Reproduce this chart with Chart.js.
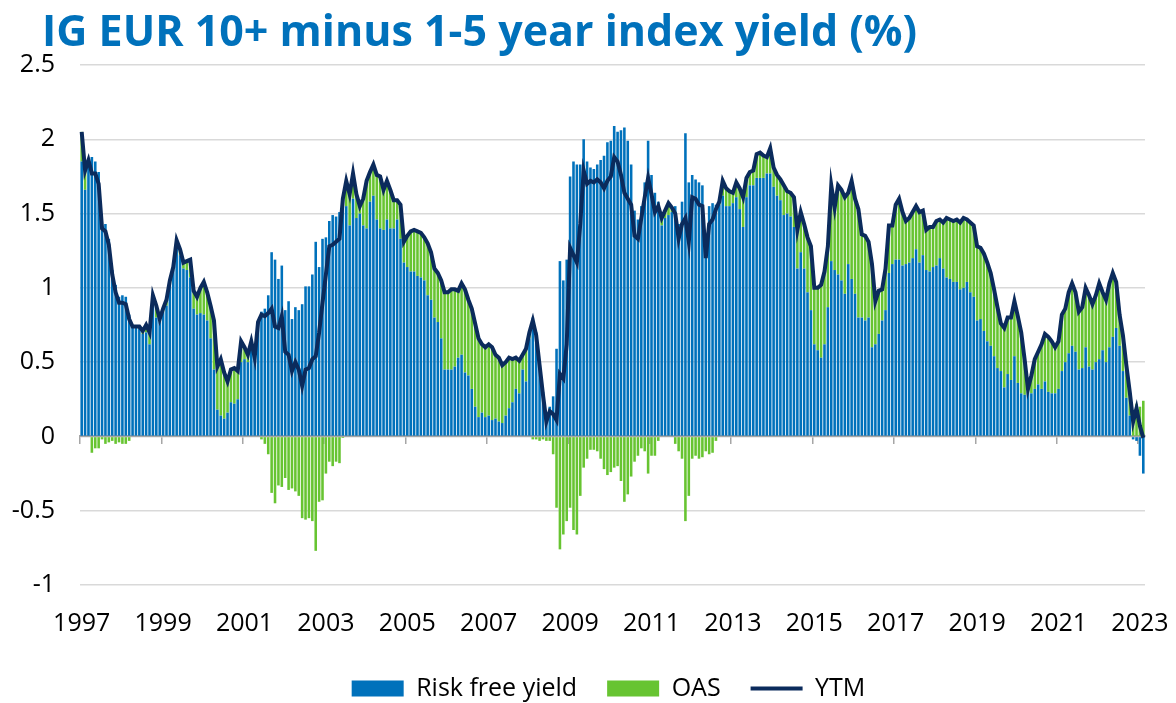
<!DOCTYPE html>
<html>
<head>
<meta charset="utf-8">
<script src="https://cdn.jsdelivr.net/npm/chart.js@4.4.0/dist/chart.umd.min.js"></script>
<style>
  * { margin: 0; padding: 0; box-sizing: border-box; }
  html, body { width: 1176px; height: 703px; overflow: hidden; background: #fff; }
  .wrap { position: absolute; left: 0; top: 0; width: 1176px; height: 711px; }
  .title {
    position: absolute; left: 42px; top: 8px;
    font: bold 43px/1 "Open Sans", sans-serif; color: #0071BB; white-space: nowrap;
  }
</style>
</head>
<body>
<div class="wrap"><canvas id="chart" width="1176" height="711"></canvas></div>
<div class="title">IG EUR 10+ minus 1-5 year index yield (%)</div>
<script>
// monthly series, Jan 1997 .. Feb 2023 (one row per year)
const riskFree = [
  1.85,1.66,1.84,1.88,1.85,1.78,1.42,1.43,1.33,1.12,1.02,0.94,
  0.95,0.94,0.82,0.74,0.74,0.73,0.69,0.70,0.62,0.88,0.80,0.77,
  0.84,0.88,1.03,1.12,1.28,1.22,1.13,1.12,1.07,0.86,0.82,0.83,
  0.82,0.78,0.66,0.45,0.18,0.14,0.12,0.16,0.23,0.22,0.25,0.50,
  0.52,0.50,0.62,0.52,0.77,0.84,0.86,0.95,1.24,1.19,1.06,1.15,
  0.85,0.91,0.79,0.87,0.85,0.89,1.01,1.01,1.09,1.31,1.14,1.33,
  1.34,1.45,1.49,1.48,1.51,1.61,1.55,1.42,1.60,1.47,1.50,1.42,
  1.40,1.58,1.62,1.46,1.40,1.39,1.46,1.40,1.40,1.46,1.33,1.17,
  1.14,1.11,1.11,1.08,1.07,1.05,0.95,0.92,0.80,0.77,0.66,0.45,
  0.45,0.45,0.47,0.53,0.55,0.43,0.41,0.32,0.20,0.13,0.16,0.13,
  0.14,0.11,0.12,0.10,0.09,0.14,0.19,0.23,0.32,0.29,0.45,0.37,
  0.66,0.80,0.70,0.51,0.30,0.13,0.20,0.27,0.59,1.18,1.05,1.19,
  1.75,1.85,1.83,1.83,2.00,1.85,1.81,1.80,1.83,1.86,1.89,1.98,
  1.99,2.09,2.05,2.06,2.08,1.99,1.83,1.52,1.46,1.55,1.71,1.99,
  1.76,1.64,1.58,1.42,1.47,1.49,1.51,1.55,1.43,1.58,2.04,1.71,
  1.76,1.73,1.71,1.69,1.30,1.55,1.57,1.56,1.56,1.62,1.55,1.55,
  1.57,1.61,1.53,1.41,1.61,1.69,1.69,1.74,1.74,1.74,1.77,1.77,
  1.68,1.62,1.59,1.49,1.50,1.48,1.41,1.13,1.24,1.13,0.97,0.85,
  0.62,0.58,0.53,0.62,0.87,1.18,1.12,1.09,1.05,0.96,1.16,1.06,
  0.96,0.80,0.80,0.78,0.80,0.60,0.62,0.69,0.78,0.85,1.10,1.16,
  1.19,1.19,1.15,1.16,1.17,1.20,1.26,1.17,1.22,1.12,1.11,1.14,
  1.15,1.20,1.13,1.07,1.06,1.04,1.04,0.99,1.00,1.04,0.97,0.94,
  0.78,0.79,0.71,0.64,0.61,0.54,0.46,0.44,0.33,0.42,0.38,0.54,
  0.36,0.29,0.28,0.30,0.29,0.32,0.35,0.32,0.37,0.30,0.29,0.29,
  0.32,0.44,0.50,0.56,0.61,0.57,0.45,0.46,0.60,0.47,0.45,0.50,
  0.52,0.58,0.50,0.60,0.67,0.73,0.61,0.44,0.26,0.14,-0.02,-0.03,
  -0.13,-0.25
];
const oas = [
  0.20,0.13,0.02,-0.11,-0.08,-0.08,-0.02,-0.05,-0.04,-0.03,-0.05,-0.04,
  -0.05,-0.05,-0.03,0.00,0.00,0.01,0.02,0.05,0.08,0.07,0.08,0.02,
  0.02,0.04,0.02,0.02,0.04,0.04,0.04,0.06,0.12,0.12,0.12,0.17,
  0.22,0.19,0.22,0.33,0.29,0.38,0.31,0.21,0.22,0.24,0.19,0.14,
  0.08,0.05,0.02,0.01,0.00,-0.02,-0.05,-0.12,-0.38,-0.45,-0.33,-0.34,
  -0.28,-0.36,-0.35,-0.37,-0.40,-0.55,-0.56,-0.55,-0.57,-0.77,-0.44,-0.43,
  -0.25,-0.17,-0.20,-0.17,-0.18,-0.01,0.17,0.21,0.17,0.16,0.05,0.18,
  0.32,0.20,0.21,0.30,0.35,0.27,0.26,0.26,0.19,0.13,0.23,0.14,
  0.21,0.27,0.28,0.30,0.30,0.29,0.35,0.32,0.33,0.33,0.39,0.52,
  0.52,0.54,0.52,0.45,0.48,0.56,0.51,0.54,0.56,0.53,0.46,0.47,
  0.48,0.49,0.43,0.43,0.39,0.36,0.34,0.29,0.21,0.22,0.10,0.22,
  0.04,-0.02,-0.02,-0.03,-0.02,-0.03,-0.03,-0.12,-0.48,-0.76,-0.66,-0.57,
  -0.48,-0.63,-0.66,-0.40,-0.21,-0.15,-0.09,-0.09,-0.10,-0.15,-0.22,-0.26,
  -0.24,-0.21,-0.20,-0.30,-0.44,-0.39,-0.27,-0.17,-0.13,-0.08,-0.10,-0.25,
  -0.13,-0.13,-0.03,0.05,0.05,0.08,0.03,-0.05,-0.10,-0.15,-0.57,-0.40,
  -0.15,-0.13,-0.15,-0.14,-0.10,-0.12,-0.11,-0.03,0.02,0.10,0.12,0.10,
  0.07,0.10,0.14,0.20,0.13,0.09,0.10,0.16,0.17,0.15,0.11,0.17,
  0.13,0.14,0.14,0.20,0.15,0.16,0.20,0.26,0.27,0.30,0.37,0.43,
  0.38,0.42,0.49,0.49,0.41,0.51,0.42,0.60,0.61,0.65,0.48,0.66,
  0.64,0.73,0.56,0.57,0.51,0.56,0.29,0.29,0.21,0.28,0.32,0.26,
  0.37,0.41,0.36,0.29,0.30,0.31,0.29,0.34,0.30,0.27,0.30,0.27,
  0.30,0.26,0.31,0.40,0.40,0.41,0.42,0.45,0.47,0.42,0.47,0.48,
  0.50,0.48,0.52,0.53,0.49,0.45,0.41,0.32,0.40,0.38,0.42,0.37,
  0.45,0.41,0.24,0.02,0.12,0.20,0.22,0.30,0.32,0.37,0.35,0.31,
  0.32,0.38,0.36,0.41,0.42,0.40,0.39,0.41,0.40,0.48,0.44,0.45,
  0.51,0.39,0.42,0.43,0.43,0.31,0.21,0.24,0.22,0.16,0.12,0.22,
  0.20,0.24
];
const ytm = [
  2.05,1.79,1.86,1.77,1.77,1.70,1.40,1.38,1.29,1.09,0.97,0.90,
  0.90,0.89,0.79,0.74,0.74,0.74,0.71,0.75,0.70,0.95,0.88,0.79,
  0.86,0.92,1.05,1.14,1.32,1.26,1.17,1.18,1.19,0.98,0.94,1.00,
  1.04,0.97,0.88,0.78,0.47,0.52,0.43,0.37,0.45,0.46,0.44,0.64,
  0.60,0.55,0.64,0.53,0.77,0.82,0.81,0.83,0.86,0.74,0.73,0.81,
  0.57,0.55,0.44,0.50,0.45,0.34,0.45,0.46,0.52,0.54,0.70,0.90,
  1.09,1.28,1.29,1.31,1.33,1.60,1.72,1.63,1.77,1.63,1.55,1.60,
  1.72,1.78,1.83,1.76,1.75,1.66,1.72,1.66,1.59,1.59,1.56,1.31,
  1.35,1.38,1.39,1.38,1.37,1.34,1.30,1.24,1.13,1.10,1.05,0.97,
  0.97,0.99,0.99,0.98,1.03,0.99,0.92,0.86,0.76,0.66,0.62,0.60,
  0.62,0.60,0.55,0.53,0.48,0.50,0.53,0.52,0.53,0.51,0.55,0.59,
  0.70,0.78,0.68,0.48,0.28,0.10,0.17,0.15,0.11,0.42,0.39,0.62,
  1.27,1.22,1.17,1.43,1.79,1.70,1.72,1.71,1.73,1.71,1.67,1.72,
  1.75,1.88,1.85,1.76,1.64,1.60,1.56,1.35,1.33,1.47,1.61,1.74,
  1.63,1.51,1.55,1.47,1.52,1.57,1.54,1.50,1.33,1.43,1.47,1.31,
  1.61,1.60,1.56,1.55,1.20,1.43,1.46,1.53,1.58,1.72,1.67,1.65,
  1.64,1.71,1.67,1.61,1.74,1.78,1.79,1.90,1.91,1.89,1.88,1.94,
  1.81,1.76,1.73,1.69,1.65,1.64,1.61,1.39,1.51,1.43,1.34,1.28,
  1.00,1.00,1.02,1.11,1.28,1.69,1.54,1.69,1.66,1.61,1.64,1.72,
  1.60,1.53,1.36,1.35,1.31,1.16,0.91,0.98,0.99,1.13,1.42,1.42,
  1.56,1.60,1.51,1.45,1.47,1.51,1.55,1.51,1.52,1.39,1.41,1.41,
  1.45,1.46,1.44,1.47,1.46,1.45,1.46,1.44,1.47,1.46,1.44,1.42,
  1.28,1.27,1.23,1.17,1.10,0.99,0.87,0.76,0.73,0.80,0.80,0.91,
  0.81,0.70,0.52,0.32,0.41,0.52,0.57,0.62,0.69,0.67,0.64,0.60,
  0.64,0.82,0.86,0.97,1.03,0.97,0.84,0.87,1.00,0.95,0.89,0.95,
  1.03,0.97,0.92,1.03,1.10,1.04,0.82,0.68,0.48,0.30,0.10,0.19,
  0.07,-0.01
];
const yearTicks = ['1997','1999','2001','2003','2005','2007','2009','2011',
  '2013','2015','2017','2019','2021','2023'];

// month categories
const months = [];
for (let i = 0; i < ytm.length; i++) {
  const y = 1997 + Math.floor(i / 12);
  const m = (i % 12) + 1;
  months.push(y + '-' + String(m).padStart(2, '0'));
}
const isYearTick = i => {
  const lab = months[i];
  return !!lab && lab.endsWith('-01') && yearTicks.includes(lab.slice(0, 4));
};

const FONT = '"Open Sans", sans-serif';

// nudge the legend right so it sits where the original one does
const legendShift = {
  id: 'legendShift',
  afterLayout(chart) {
    const lg = chart.legend;
    if (lg) { lg.left += 36; lg.right += 36; }
  }
};

new Chart(document.getElementById('chart'), {
  type: 'bar',
  data: {
    labels: months,
    datasets: [
      { label: 'Risk free yield', data: riskFree, backgroundColor: '#0071BB', borderWidth: 0,
        stack: 'bars', order: 1, pointStyle: 'rect', xAxisID: 'x', yAxisID: 'y',
        barPercentage: 1, categoryPercentage: 0.76 },
      { label: 'OAS', data: oas, backgroundColor: '#67C431', borderWidth: 0,
        stack: 'bars', order: 1, pointStyle: 'rect', xAxisID: 'x', yAxisID: 'y',
        barPercentage: 1, categoryPercentage: 0.76 },
      { type: 'line', label: 'YTM', data: ytm, borderColor: '#0B2B5C', backgroundColor: '#0B2B5C',
        borderWidth: 4, pointRadius: 0, pointHoverRadius: 0, tension: 0,
        stack: 'ytm', order: 0, pointStyle: 'line', xAxisID: 'x', yAxisID: 'y' }
    ]
  },
  plugins: [legendShift],
  options: {
    responsive: false,
    animation: false,
    layout: { padding: { top: 65, right: 31, bottom: 0, left: 0 } },
    plugins: {
      tooltip: { enabled: false },
      legend: {
        position: 'bottom',
        labels: {
          usePointStyle: true, pointStyleWidth: 52, boxHeight: 16,
          font: { size: 25, family: FONT }, color: '#000', padding: 30,
          sort: (a, b) => a.datasetIndex - b.datasetIndex
        }
      }
    },
    scales: {
      x: {
        type: 'category', stacked: true, offset: true,
        grid: { display: false, drawTicks: false, offset: true },
        border: { display: false },
        ticks: {
          autoSkip: false, maxRotation: 0, minRotation: 0, padding: 24,
          color: '#000', font: { size: 25, family: FONT },
          callback: (v, i) => isYearTick(i) ? months[i].slice(0, 4) : ''
        },
        afterFit: s => { s.height = 61; }
      },
      xz: {
        type: 'category', axis: 'x', position: { y: 0 }, offset: true,
        grid: {
          offset: true, drawOnChartArea: false, drawTicks: true, tickLength: 7, lineWidth: 1.5,
          color: c => isYearTick(c.index) ? '#A6A6A6' : 'rgba(0,0,0,0)'
        },
        border: { display: true, color: '#A6A6A6', width: 2 },
        ticks: { display: false, autoSkip: false, maxRotation: 0 }
      },
      y: {
        stacked: true, min: -1, max: 2.5,
        grid: { color: '#D9D9D9', lineWidth: 1.5, drawTicks: false },
        border: { display: false },
        ticks: {
          stepSize: 0.5, padding: 25, color: '#000', font: { size: 25, family: FONT },
          callback: v => String(v)
        },
        afterFit: s => { s.width = 80; }
      }
    }
  }
});
</script>
</body>
</html>
